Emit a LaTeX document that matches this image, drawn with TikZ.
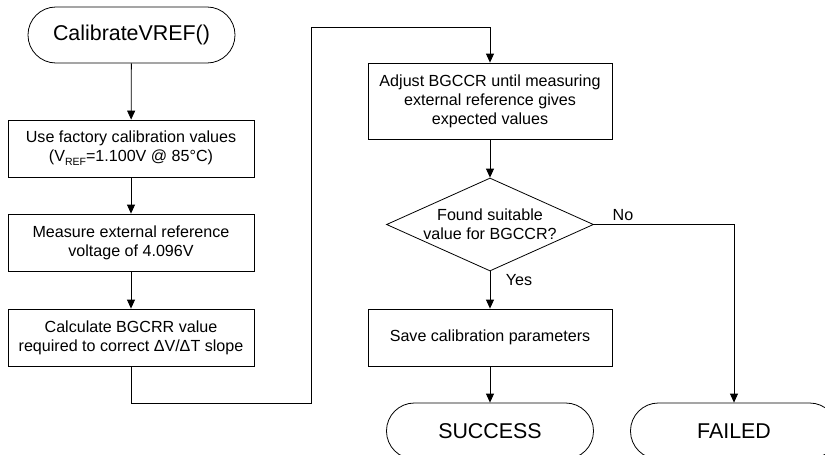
\documentclass[tikz,border=0pt]{standalone}
\usepackage{fontspec}
\setmainfont{Liberation Sans}
\usetikzlibrary{shapes.geometric,arrows.meta}
\begin{document}
\begin{tikzpicture}[x=1pt,y=-1pt,
  every node/.style={font=\fontsize{16.1}{19}\selectfont},
  term/.style={draw,line width=0.8pt,fill=white,minimum width=207pt,minimum height=56pt,rounded corners=27.9pt,inner sep=0pt,font=\fontsize{21.4}{24}\selectfont},
  procbox/.style={draw,line width=0.8pt,fill=white,minimum width=246pt,minimum height=57pt,inner sep=0pt,align=center},
  decbox/.style={draw,line width=0.8pt,fill=white,shape=diamond,minimum width=207pt,minimum height=93pt,inner sep=0pt},
  conn/.style={line width=0.8pt,-{Triangle[length=9pt,width=8pt]}},
  lbl/.style={inner sep=0pt}]
\useasboundingbox (0,0) rectangle (825,455);
\node[term] (start) at (131.5,35) {CalibrateVREF()};
\node[procbox] (b1) at (131,148.5) {Use factory calibration values\\(V\raisebox{-4pt}{\fontsize{10.5}{11}\selectfont REF}=1.100V @ 85°C)};
\node[procbox] (b2) at (131,242.5) {Measure external reference\\voltage of 4.096V};
\node[procbox] (b3) at (131,337.5) {Calculate BGCRR value\\required to correct ΔV/ΔT slope};
\node[procbox,minimum width=244pt,minimum height=76pt] (b4) at (490,101) {Adjust BGCCR until measuring\\external reference gives\\expected values};
\node[decbox] (dec) at (490,224.5) {};
\node[lbl,align=center] (dectext) at (dec.center) {Found suitable\\value for BGCCR?};
\node[procbox,minimum width=244pt] (b5) at (490,337.5) {Save calibration parameters};
\node[term] (succ) at (490,431) {SUCCESS};
\node[term] (fail) at (734,431) {FAILED};
\coordinate (c1) at (131,403);
\coordinate (c2) at (311,403);
\coordinate (c3) at (311,27);
\coordinate (c4) at (490,27);
\coordinate (c5) at (734,224.5);
\draw[conn] (start) -- (b1);
\draw[conn] (b1) -- (b2);
\draw[conn] (b2) -- (b3);
\draw[conn] (b3.south) -- (c1) -- (c2) -- (c3) -- (c4) -- (b4.north);
\draw[conn] (b4) -- (dec.north);
\draw[conn] (dec.south) -- (b5.north);
\draw[conn] (b5) -- (succ);
\draw[conn] (dec.east) -- (c5) -- (fail.north);
\node[lbl] (yes) at (519,280) {Yes};
\node[lbl] (no) at (623,215) {No};
\end{tikzpicture}
\end{document}
